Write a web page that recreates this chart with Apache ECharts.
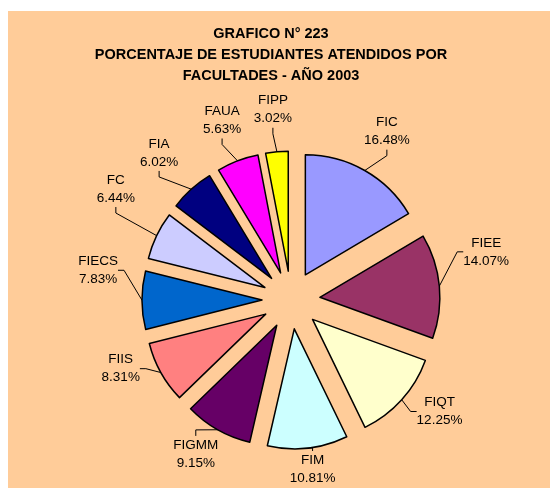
<!DOCTYPE html>
<html>
<head>
<meta charset="utf-8">
<script src="https://cdn.jsdelivr.net/npm/echarts@6/dist/echarts.min.js"></script>
<style>
  html, body { margin: 0; padding: 0; background: #fff; }
  #main {
    position: absolute;
    left: 8px;
    top: 11px;
    width: 542px;
    height: 477px;
    background: #FFCC99;
  }
</style>
</head>
<body>
<div id="main"></div>
<script>
// datos del grafico
const titleLines = ['GRAFICO N° 223', 'PORCENTAJE DE ESTUDIANTES ATENDIDOS POR', 'FACULTADES - AÑO 2003'];
const categories = ['FIC', 'FIEE', 'FIQT', 'FIM', 'FIGMM', 'FIIS', 'FIECS', 'FC', 'FIA', 'FAUA', 'FIPP'];
const percentages = [16.48, 14.07, 12.25, 10.81, 9.15, 8.31, 7.83, 6.44, 6.02, 5.63, 3.02];
const sliceColors = ['#9999FF', '#993366', '#FFFFCC', '#CCFFFF', '#660066', '#FF8080',
  '#0066CC', '#CCCCFF', '#000080', '#FF00FF', '#FFFF00'];

const chart = echarts.init(document.getElementById('main'));

const center = [283, 289];
const radius = 120;
const explode = 29;
const labelGap = 24;
const font = 'Liberation Sans, Arial, sans-serif';

const total = percentages.reduce((a, b) => a + b, 0);
// angulo medio de cada sector, desde arriba en sentido horario
const midAngles = [];
let acc = 0;
percentages.forEach((v) => {
  midAngles.push(((acc + v / 2) / total) * Math.PI * 2);
  acc += v;
});

// posicion de la etiqueta: fuera del sector, a una distancia fija del arco
function placeLabel(params) {
  const a = midAngles[params.dataIndex];
  const ux = Math.sin(a);
  const uy = -Math.cos(a);
  const hw = params.labelRect.width / 2;
  const hh = params.labelRect.height / 2;
  const ext = Math.min(
    Math.abs(ux) > 1e-6 ? hw / Math.abs(ux) : Infinity,
    Math.abs(uy) > 1e-6 ? hh / Math.abs(uy) : Infinity
  );
  const d = radius + explode + labelGap + ext;
  const x = center[0] + d * ux;
  // las etiquetas laterales suben un poco
  const lift = 30 * Math.abs(ux) * Math.max(0, Math.min(1, (0.75 + uy) / 0.3));
  let y = center[1] + d * uy - lift;
  y = Math.min(y, 477 - hh - 1);
  return { x: x, y: y, align: 'center', verticalAlign: 'middle' };
}

// una serie por sector, desplazada hacia afuera (sector separado)
const series = categories.map((cat, i) => {
  const a = midAngles[i];
  return {
    type: 'pie',
    silent: true,
    center: [center[0] + explode * Math.sin(a), center[1] - explode * Math.cos(a)],
    radius: radius,
    startAngle: 90,
    clockwise: true,
    avoidLabelOverlap: false,
    label: {
      show: true,
      position: 'outside',
      fontFamily: font,
      fontSize: 13.5,
      color: '#000',
      lineHeight: 18,
      align: 'center',
      formatter: (p) => p.name + '\n' + p.value.toFixed(2) + '%',
    },
    labelLine: {
      show: true,
      length: 8,
      length2: 6,
      lineStyle: { color: '#000', width: 1 },
    },
    labelLayout: placeLabel,
    data: categories.map((name, j) => (j === i
      ? {
        name: name,
        value: percentages[j],
        itemStyle: { color: sliceColors[j], borderColor: '#000', borderWidth: 1.5 },
      }
      : {
        name: name,
        value: percentages[j],
        itemStyle: { color: 'rgba(0,0,0,0)', borderWidth: 0 },
        label: { show: false },
        labelLine: { show: false },
      })),
  };
});

const option = {
  animation: false,
  title: {
    text: titleLines.join('\n'),
    left: 263,
    top: 12,
    padding: 0,
    textAlign: 'center',
    textStyle: {
      fontFamily: font,
      fontSize: 14.5,
      fontWeight: 'bold',
      color: '#000',
      lineHeight: 21,
    },
  },
  series: series,
};

chart.setOption(option);
</script>
</body>
</html>
